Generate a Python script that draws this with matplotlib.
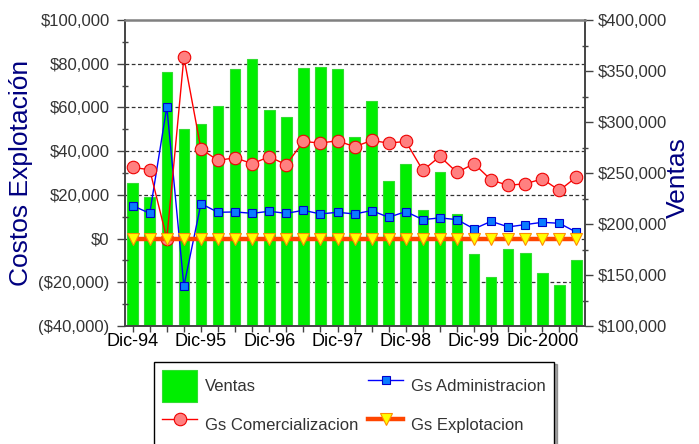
import matplotlib
matplotlib.use("Agg")
import matplotlib.pyplot as plt
import matplotlib.transforms as mtransforms
from matplotlib.ticker import FuncFormatter, MultipleLocator, FixedLocator
import numpy as np

plt.rcParams['font.family'] = ['Liberation Sans', 'DejaVu Sans']

# Quarterly periods, Dic-94 .. Jun-2001
periods = ['Dic-94', 'Mar-95', 'Jun-95', 'Sep-95', 'Dic-95', 'Mar-96', 'Jun-96', 'Sep-96',
           'Dic-96', 'Mar-97', 'Jun-97', 'Sep-97', 'Dic-97', 'Mar-98', 'Jun-98', 'Sep-98',
           'Dic-98', 'Mar-99', 'Jun-99', 'Sep-99', 'Dic-99', 'Mar-00', 'Jun-00', 'Sep-00',
           'Dic-2000', 'Mar-01', 'Jun-01']
tick_labels = ['Dic-94', 'Dic-95', 'Dic-96', 'Dic-97', 'Dic-98', 'Dic-99', 'Dic-2000']

ventas = [240500, 226800, 349000, 292800, 298000, 315700, 352000, 361800, 311800,
          305200, 352900, 353900, 352000, 285600, 320900, 242200, 258800, 213700,
          250700, 209500, 170600, 148300, 175800, 171600, 151700, 140200, 164700]

gs_admin = [15070, 11550, 60270, -21780, 15980, 12010, 12190, 11550, 12470, 11550,
            12920, 11280, 12010, 11280, 12790, 9730, 12330, 8680, 9450, 8680,
            4430, 7900, 5340, 6390, 7440, 6990, 2880]

gs_comer = [32550, 31500, 0, 82970, 40960, 35750, 36980, 34250, 37440, 33790,
            44430, 43700, 44750, 42010, 44880, 43700, 44430, 31190, 37580, 30270,
            34250, 26800, 24340, 25110, 27260, 22050, 28170]

gs_explot = [0] * 27

x = np.arange(len(periods))


def money(v, pos):
    if v < 0:
        return f"(${-v:,.0f})"
    return f"${v:,.0f}"


fig = plt.figure(figsize=(6.99, 4.44), dpi=100)
ax = fig.add_axes([125 / 699, 1 - 326 / 444, 460 / 699, 306 / 444])
ax2 = ax.twinx()

# bars on the secondary (right) axis, kept below the lines
ax.set_zorder(ax2.get_zorder() + 1)
ax.patch.set_visible(False)

bars = ax2.bar(x, ventas, width=0.62, color='#00EE00', edgecolor='#33DD33',
               linewidth=0.8, label='Ventas', zorder=2)
ax2.set_ylim(100000, 400000)

ax.set_ylim(-40000, 100000)
ax.set_xlim(-0.45, 26.5)

# dashed gridlines from the left scale, behind the bars
blend = mtransforms.blended_transform_factory(ax2.transAxes, ax.transData)
for gy in [80000, 60000, 40000, 20000, 0, -20000]:
    ax2.plot([0, 1], [gy, gy], transform=blend, color='#333333', lw=0.9,
             ls=(0, (3, 2)), zorder=1)

l_admin, = ax.plot(x, gs_admin, color='#0000FF', lw=1.0, marker='s', markersize=6,
                   markerfacecolor='#0A7CFF', markeredgecolor='#0000CC',
                   markeredgewidth=0.8, label='Gs Administracion', zorder=3)
l_comer, = ax.plot(x, gs_comer, color='#FF0000', lw=1.0, marker='o', markersize=9,
                   markerfacecolor='#FF8080', markeredgecolor='#EE0000',
                   markeredgewidth=0.8, label='Gs Comercializacion', zorder=4)
l_expl, = ax.plot(x, gs_explot, color='#FF4500', lw=3.2, marker='v', markersize=8,
                  markerfacecolor='#FFFF00', markeredgecolor='#FF8C00',
                  markeredgewidth=0.8, label='Gs Explotacion', zorder=5)

# spines
for s in ['left', 'right', 'bottom']:
    ax.spines[s].set_color('#444444')
    ax2.spines[s].set_color('#444444')
    ax.spines[s].set_linewidth(1.2)
    ax2.spines[s].set_linewidth(1.2)
ax.spines['top'].set_color('#808080')
ax.spines['top'].set_linewidth(1.8)
ax2.spines['top'].set_visible(False)

# left axis ticks
ax.yaxis.set_major_locator(MultipleLocator(20000))
ax.yaxis.set_minor_locator(MultipleLocator(10000))
ax.yaxis.set_major_formatter(FuncFormatter(money))
ax.tick_params(axis='y', which='major', direction='out', length=6, width=1,
               color='#444444', labelsize=12, labelcolor='#333333', pad=5)
ax.tick_params(axis='y', which='minor', direction='inout', length=5, width=1,
               color='#444444')

# right axis ticks
ax2.yaxis.set_major_locator(MultipleLocator(50000))
ax2.yaxis.set_minor_locator(MultipleLocator(25000))
ax2.yaxis.set_major_formatter(FuncFormatter(money))
ax2.tick_params(axis='y', which='major', direction='out', length=6, width=1,
                color='#444444', labelsize=12, labelcolor='#333333', pad=3)
ax2.tick_params(axis='y', which='minor', direction='inout', length=5, width=1,
                color='#444444')

# x axis: a tick at every quarter, label every December
ax.xaxis.set_major_locator(FixedLocator(x[::4]))
ax.set_xticklabels(tick_labels)
ax.xaxis.set_minor_locator(FixedLocator(x))
ax.tick_params(axis='x', which='both', direction='out', length=4, width=1,
               color='#444444', labelsize=13, labelcolor='black', pad=1)

ax.set_ylabel('Costos Explotación', color='#000080', fontsize=19)
ax.yaxis.set_label_coords(-0.199, 0.5)
ax2.set_ylabel('Ventas', color='#000080', fontsize=19)
ax2.yaxis.set_label_coords(1.176, 0.485)

leg = fig.legend([bars, l_comer, l_admin, l_expl],
                 ['Ventas', 'Gs Comercializacion', 'Gs Administracion', 'Gs Explotacion'],
                 loc='upper left', bbox_to_anchor=(154 / 699, 1 - 361.5 / 444),
                 ncol=2, fontsize=12, frameon=True, fancybox=False, shadow=True,
                 borderaxespad=0, borderpad=0.5, handlelength=2.1, handleheight=2.58,
                 handletextpad=0.45, columnspacing=0.6, labelspacing=0.42,
                 labelcolor='#333333')
leg.get_frame().set_edgecolor('black')
leg.get_frame().set_linewidth(1.0)

fig.savefig('out.png', dpi=100)
